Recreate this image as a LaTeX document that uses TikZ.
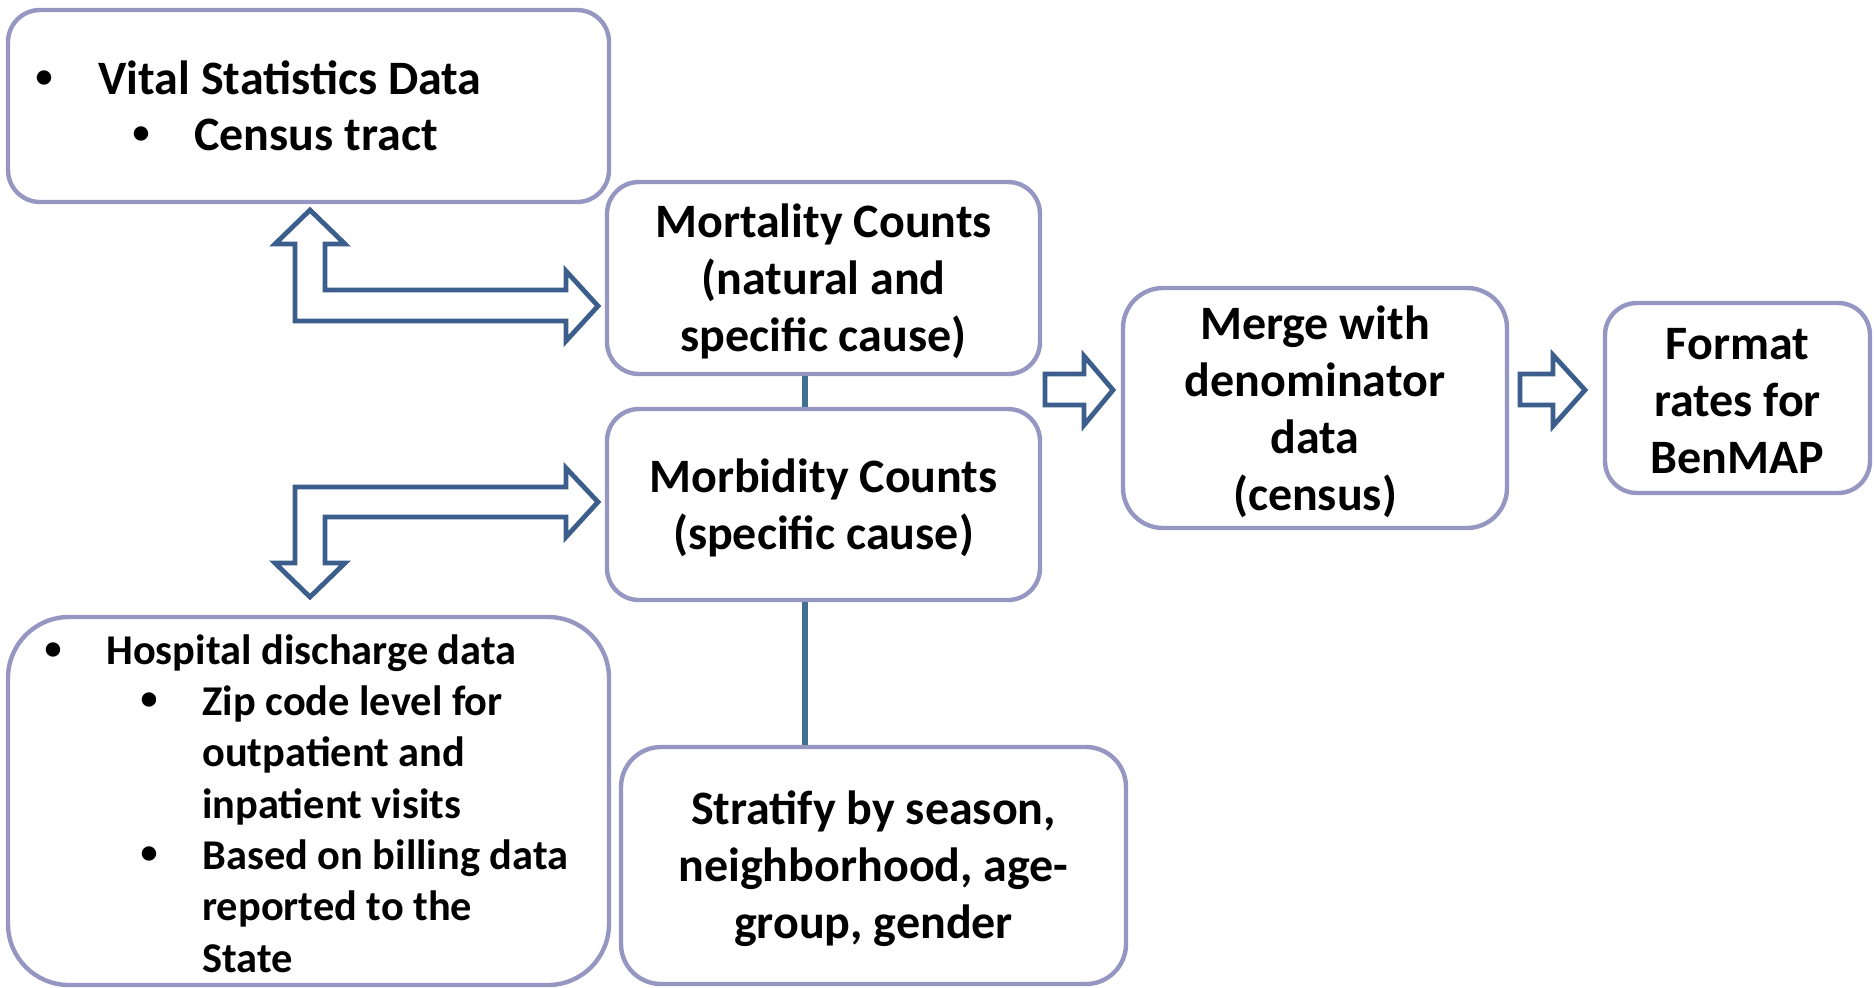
\documentclass[tikz,border=0pt]{standalone}
\usepackage{fontspec}
\setmainfont{Carlito}
\definecolor{boxc}{RGB}{150,150,195}
\definecolor{arrc}{RGB}{59,94,140}
\definecolor{linec}{RGB}{65,112,145}
\tikzset{
  box/.style={draw=boxc, line width=2.2pt, fill=white, rounded corners=#1, inner sep=0pt},
  box/.default=16pt,
  ctxt/.style={inner sep=0pt, align=center, font=\bfseries\fontsize{24}{28.5}\selectfont},
  txt/.style={inner sep=0pt, font=\bfseries\fontsize{24}{28.5}\selectfont},
  stxt/.style={inner sep=0pt, font=\bfseries\fontsize{21.2}{25.7}\selectfont},
  bul/.style={inner sep=0pt, font=\bfseries\fontsize{17}{20}\selectfont},
  blockarrow/.style={draw=arrc, line width=2.4pt, fill=white, line join=miter},
  link/.style={draw=linec, line width=3pt}
}
\begin{document}
\begin{tikzpicture}[x=0.5pt, y=-0.5pt]
\useasboundingbox (0,0) rectangle (1874,987);

\coordinate (cx) at (805,0);

% boxes
\node[box=16pt, minimum width=300.5pt, minimum height=96pt] (vital) at (308.5,106) {};
\node[box=16pt, minimum width=216.5pt, minimum height=96pt] (mort) at (823.5,278) {};
\node[box=16pt, minimum width=216.5pt, minimum height=95.5pt] (morb) at (823.5,504.5) {};
\node[box=20pt, minimum width=252.5pt, minimum height=118.5pt] (strat) at (873.5,865.5) {};
\node[box=30.5pt, minimum width=300.5pt, minimum height=184pt] (hosp) at (308.5,801) {};
\node[box=20pt, minimum width=192pt, minimum height=120pt] (merge) at (1315,408) {};
\node[box=16pt, minimum width=132.5pt, minimum height=95pt] (format) at (1737.5,398) {};

% box texts
\node[ctxt] (mort-t) at ([yshift=-1.8pt]mort.center) {Mortality Counts\\(natural and\\specific cause)};
\node[ctxt] (morb-t) at ([yshift=-1.5pt]morb.center) {Morbidity Counts\\(specific cause)};
\node[ctxt] (strat-t) at ([yshift=-1.8pt]strat.center) {Stratify by season,\\neighborhood, age-\\group, gender};
\node[ctxt] (merge-t) at ([yshift=-1.8pt]merge.center) {Merge with\\denominator\\data\\(census)};
\node[ctxt] (format-t) at ([yshift=-1.5pt]format.center) {Format\\rates for\\BenMAP};

% connectors
\draw[link] (cx |- mort.south) -- (cx |- morb.north);
\draw[link] (cx |- morb.south) -- (cx |- strat.north);

% list text: vital statistics
\node[bul] (vb1) at (44,79.5) {\textbullet};
\node[txt, anchor=base west] (vt1) at (98,94.5) {Vital Statistics Data};
\node[bul] (vb2) at (141,135) {\textbullet};
\node[txt, anchor=base west] (vt2) at (194,150) {Census tract};

% list text: hospital
\node[bul] (hb1) at (53,651) {\textbullet};
\node[stxt, anchor=base west] (ht1) at (106,664.7) {Hospital discharge data};
\node[bul] (hb2) at (149,701.5) {\textbullet};
\node[stxt, anchor=base west] (ht2) at (202,715.2) {Zip code level for};
\node[stxt, anchor=base west] (ht3) at (202,766.6) {outpatient and};
\node[stxt, anchor=base west] (ht4) at (202,818) {inpatient visits};
\node[bul] (hb3) at (149,855.6) {\textbullet};
\node[stxt, anchor=base west] (ht5) at (202,869.3) {Based on billing data};
\node[stxt, anchor=base west] (ht6) at (202,920.7) {reported to the};
\node[stxt, anchor=base west] (ht7) at (202,972.1) {State};

% straight block arrows
\draw[blockarrow] (1045,374) -- (1084,374) -- (1084,356) -- (1113,390) -- (1084,425)
  -- (1084,405) -- (1045,405) -- cycle;
\draw[blockarrow] (1520,374) -- (1553,374) -- (1553,355) -- (1585,390) -- (1553,426)
  -- (1553,405) -- (1520,405) -- cycle;

% bent double arrows
\draw[blockarrow] (310,210) -- (345,244) -- (325,244) -- (325,290) -- (566,290)
  -- (566,271) -- (598,306) -- (566,341) -- (566,321) -- (295,321) -- (295,244)
  -- (275,244) -- cycle;
\draw[blockarrow] (295,487) -- (566,487) -- (566,468) -- (598,502) -- (566,537)
  -- (566,517) -- (325,517) -- (325,563) -- (345,563) -- (310,597) -- (275,563)
  -- (295,563) -- cycle;
\end{tikzpicture}
\end{document}
